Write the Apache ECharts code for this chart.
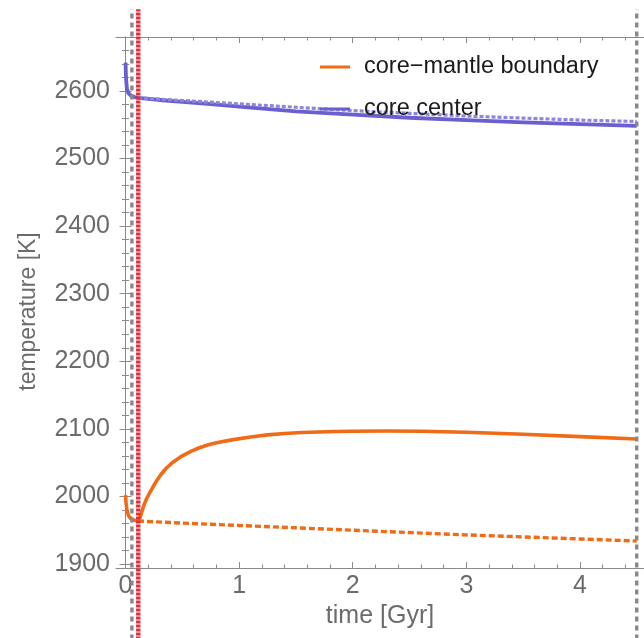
<!DOCTYPE html>
<html>
<head>
<meta charset="utf-8">
<script src="https://cdn.jsdelivr.net/npm/echarts@6/dist/echarts.min.js"></script>
<style>
  html, body { margin: 0; padding: 0; background: #fff; }
  #chart { width: 644px; height: 638px; }
</style>
</head>
<body>
<div id="chart"></div>
<script>
// Core-mantle boundary temperature (solid) and its reference trend (dotted)
const cmbTime = [0, 0.004, 0.012, 0.025, 0.045, 0.07, 0.095, 0.115, 0.125, 0.14, 0.16, 0.185, 0.21, 0.24, 0.27, 0.31, 0.36, 0.42, 0.5, 0.58, 0.65, 0.73, 0.8, 0.95, 1.1, 1.25, 1.4, 1.55, 1.7, 1.85, 2.0, 2.3, 2.6, 3.0, 3.5, 4.0, 4.5];
const cmbTemp = [2002, 1991, 1980, 1972, 1967.5, 1965, 1964, 1964.5, 1967.5, 1975, 1986, 1996.5, 2004.5, 2013.5, 2022, 2032, 2042, 2051, 2060, 2067, 2072, 2076.5, 2079.3, 2084, 2088, 2091, 2093, 2094.5, 2095.3, 2096, 2096.4, 2096.8, 2096.5, 2095, 2092, 2088.5, 2085];
const cmbRefTime = [0.11, 0.5, 1, 1.5, 2, 2.5, 3, 3.5, 4, 4.5];
const cmbRefTemp = [1963.5, 1960.5, 1957, 1953.5, 1950, 1946.5, 1943, 1940, 1937, 1934];

// Core center temperature (solid) and its reference trend (dotted)
const centerTime = [0, 0.004, 0.012, 0.025, 0.05, 0.08, 0.11, 0.2, 0.35, 0.5, 0.75, 1, 1.5, 2, 2.5, 3, 3.5, 4, 4.5];
const centerTemp = [2642, 2620, 2603, 2597, 2593, 2591, 2590, 2588.5, 2586, 2584, 2580.5, 2577, 2570, 2565, 2560.5, 2557, 2553.5, 2551, 2548.5];
const centerRefTime = [0.11, 0.5, 1, 1.5, 2, 2.5, 3, 3.5, 4, 4.5];
const centerRefTemp = [2590, 2586, 2581, 2576, 2571, 2567, 2563, 2560, 2557, 2555];

// Event markers (time in Gyr)
const grayMarkers = [0.056, 4.5];
const redMarker = 0.112;
const markerSpan = [1788, 2721];

// Ticks
const xMajor = [0, 1, 2, 3, 4];
const xMinor = [0.2, 0.4, 0.6, 0.8, 1.2, 1.4, 1.6, 1.8, 2.2, 2.4, 2.6, 2.8, 3.2, 3.4, 3.6, 3.8, 4.2, 4.4];
const yMajor = [1900, 2000, 2100, 2200, 2300, 2400, 2500, 2600];
const yMinor = [1920, 1940, 1960, 1980, 2020, 2040, 2060, 2080, 2120, 2140, 2160, 2180,
  2220, 2240, 2260, 2280, 2320, 2340, 2360, 2380, 2420, 2440, 2460, 2480,
  2520, 2540, 2560, 2580, 2620, 2640, 2660];

const xRange = [-0.084, 4.564];
const yRange = [1894, 2680];

const FONT = '"Liberation Sans", Arial, Helvetica, sans-serif';
const frameColor = '#8a8a8a';
const labelColor = '#6b6b6b';
const orange = '#ef6b15';
const blue = '#6b5fcf';
const blueLight = '#8c86dc';

const zip = (a, b) => a.map((v, i) => [v, b[i]]);

function axis(dir, position, values, len, withLine, withLabels, name) {
  const isX = dir === 'x';
  const a = {
    type: 'value',
    position: position,
    min: isX ? xRange[0] : yRange[0],
    max: isX ? xRange[1] : yRange[1],
    splitLine: { show: false },
    axisLine: { show: withLine, lineStyle: { color: frameColor, width: 1 } },
    axisTick: { show: true, inside: true, length: len, customValues: values,
      lineStyle: { color: frameColor, width: 1 } },
    axisLabel: withLabels
      ? { show: true, customValues: values, color: labelColor, fontSize: 25, fontFamily: FONT, margin: 6,
          formatter: v => String(v) }
      : { show: false }
  };
  if (name) {
    a.name = name;
    a.nameLocation = 'middle';
    a.nameGap = isX ? 31 : 76;
    a.nameTextStyle = isX
      ? { color: labelColor, fontSize: 25, fontFamily: FONT }
      : { color: labelColor, fontSize: 23, fontFamily: FONT, padding: [0, 18, 0, 0] };
  }
  return a;
}

function markerLine(t, color, width, dash) {
  return {
    type: 'line',
    silent: true,
    clip: false,
    symbol: 'none',
    z: 5,
    data: [[t, markerSpan[0]], [t, markerSpan[1]]],
    lineStyle: { color: color, width: width, type: dash, cap: 'butt' }
  };
}

const chart = echarts.init(document.getElementById('chart'), null, { renderer: 'canvas' });

chart.setOption({
  animation: false,
  backgroundColor: '#ffffff',
  grid: { left: 116, right: 0, top: 37, bottom: 70, show: false },
  legend: {
    orient: 'vertical',
    left: 320,
    top: 55,
    padding: 0,
    itemGap: 18,
    itemWidth: 30,
    itemHeight: 3,
    data: [
      { name: 'core\u2212mantle boundary', icon: 'rect' },
      { name: 'core center', icon: 'rect' }
    ],
    textStyle: { fontSize: 23.5, fontFamily: FONT, color: '#1a1a1a', lineHeight: 23, padding: [0, 0, 0, 9] }
  },
  xAxis: [
    axis('x', 'bottom', xMajor, 6, true, true, 'time [Gyr]'),
    axis('x', 'bottom', xMinor, 3.5, false, false),
    axis('x', 'top', xMajor, 6, true, false),
    axis('x', 'top', xMinor, 3.5, false, false)
  ],
  yAxis: [
    axis('y', 'left', yMajor, 6, true, true, 'temperature [K]'),
    axis('y', 'left', yMinor, 3.5, false, false),
    axis('y', 'right', yMajor, 6, true, false),
    axis('y', 'right', yMinor, 3.5, false, false)
  ],
  series: [
    {
      name: 'core\u2212mantle boundary', type: 'line', symbol: 'none', z: 3,
      data: zip(cmbTime, cmbTemp),
      lineStyle: { color: orange, width: 3.6, join: 'round' }, itemStyle: { color: orange }
    },
    {
      name: 'cmb trend', type: 'line', symbol: 'none', z: 3,
      data: zip(cmbRefTime, cmbRefTemp),
      lineStyle: { color: orange, width: 3.4, type: [6, 3], cap: 'butt' }
    },
    {
      name: 'core center', type: 'line', symbol: 'none', z: 3,
      data: zip(centerTime, centerTemp),
      lineStyle: { color: blue, width: 3.8, join: 'round' }, itemStyle: { color: blue }
    },
    {
      name: 'center trend', type: 'line', symbol: 'none', z: 3,
      data: zip(centerRefTime, centerRefTemp),
      lineStyle: { color: blueLight, width: 3.2, type: [4, 2], cap: 'butt' }
    },
    markerLine(grayMarkers[0], '#888888', 3.4, [5, 4]),
    markerLine(grayMarkers[1], '#888888', 3.4, [5, 4]),
    markerLine(redMarker, '#e52b36', 4.4, [3, 1])
  ]
});
</script>
</body>
</html>
